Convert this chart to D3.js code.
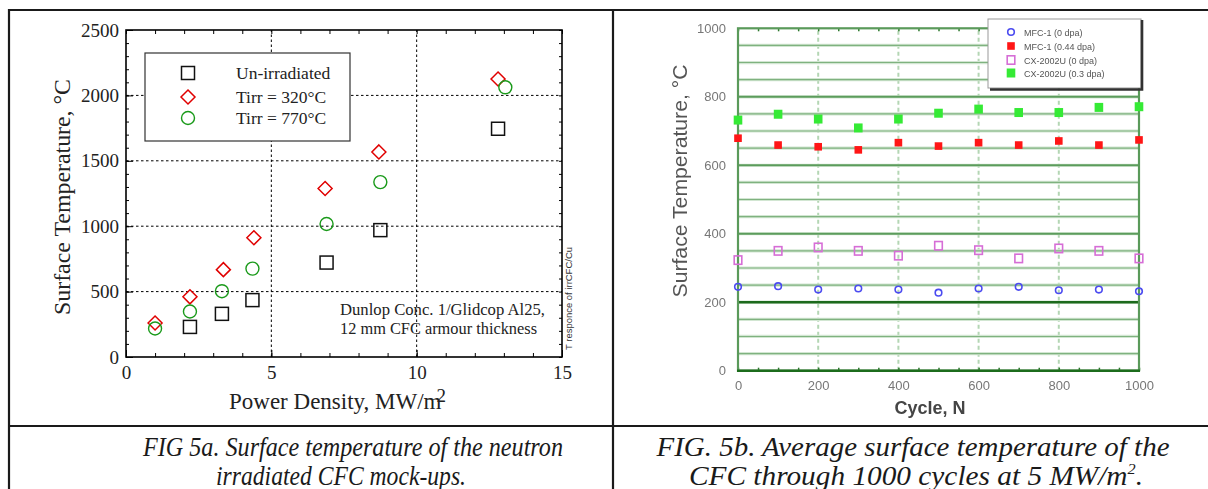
<!DOCTYPE html>
<html>
<head>
<meta charset="utf-8">
<script src="https://cdn.jsdelivr.net/npm/d3@7"></script>
<style>
  body { margin: 0; background: #fff; }
  svg { display: block; }
</style>
</head>
<body>
<svg id="fig" width="1208" height="489"></svg>
<script>
// ---- FIG 5a data (power density MW/m2, surface temp C)
const powerUnirr = [2.2, 3.3, 4.35, 6.9, 8.75, 12.8];
const tempUnirr = [230, 330, 435, 722, 970, 1745];
const power320 = [1.0, 2.2, 3.35, 4.4, 6.85, 8.7, 12.8];
const temp320 = [260, 460, 668, 912, 1288, 1568, 2125];
const power770 = [1.0, 2.2, 3.3, 4.35, 6.9, 8.75, 13.05];
const temp770 = [218, 348, 503, 676, 1017, 1337, 2062];
const legendA = ["Un-irradiated", "Tirr = 320°C", "Tirr = 770°C"];
const xTicksA = [0, 5, 10, 15];
const yTicksA = [0, 500, 1000, 1500, 2000, 2500];

// ---- FIG 5b data (cycle N, surface temp C)
const cycles = [0, 100, 200, 300, 400, 500, 600, 700, 800, 900, 1000];
const mfc0 = [245, 247, 237, 240, 237, 228, 240, 245, 235, 237, 232];
const mfc044 = [679, 659, 654, 645, 666, 656, 666, 659, 671, 659, 674];
const cx0 = [323, 350, 360, 350, 336, 365, 352, 328, 357, 350, 328];
const cx03 = [732, 749, 735, 709, 735, 752, 764, 754, 754, 769, 771];
const legendB = ["MFC-1 (0 dpa)", "MFC-1 (0.44 dpa)", "CX-2002U (0 dpa)", "CX-2002U (0.3 dpa)"];
const ticksB = [0, 200, 400, 600, 800, 1000];

const svg = d3.select("#fig");
const serif = "'Liberation Serif', 'Times New Roman', serif";
const sans = "'Liberation Sans', Arial, sans-serif";

// table frame
const frame = svg.append("g").attr("stroke", "#1a1a1a").attr("stroke-width", 2.2);
frame.append("line").attr("x1", 8).attr("x2", 1208).attr("y1", 10).attr("y2", 10);
frame.append("line").attr("x1", 8).attr("x2", 1208).attr("y1", 426).attr("y2", 426);
frame.append("line").attr("x1", 9).attr("x2", 9).attr("y1", 9).attr("y2", 489);
frame.append("line").attr("x1", 613).attr("x2", 613).attr("y1", 9).attr("y2", 489);

// ================= FIG 5a =================
const xA = d3.scaleLinear().domain([0, 15]).range([126, 562]);
const yA = d3.scaleLinear().domain([0, 2500]).range([357, 30]);
const gA = svg.append("g");

// dotted grid
gA.append("g").selectAll("line").data(xTicksA.slice(1, -1)).join("line")
  .attr("x1", d => xA(d)).attr("x2", d => xA(d)).attr("y1", yA(0)).attr("y2", yA(2500))
  .attr("stroke", "#000").attr("stroke-width", 1).attr("stroke-dasharray", "2.5,2.5");
gA.append("g").selectAll("line").data(yTicksA.slice(1, -1)).join("line")
  .attr("x1", xA(0)).attr("x2", xA(15)).attr("y1", d => yA(d)).attr("y2", d => yA(d))
  .attr("stroke", "#000").attr("stroke-width", 1).attr("stroke-dasharray", "2.5,2.5");

// axes with inward ticks on all four sides
const axA = (axis, tr) => gA.append("g").attr("transform", tr).call(axis)
  .call(g => g.select(".domain").remove());
axA(d3.axisBottom(xA).tickValues(d3.range(0, 16)).tickSize(-4).tickFormat(""), `translate(0,${yA(0)})`);
axA(d3.axisTop(xA).tickValues(d3.range(0, 16)).tickSize(-4).tickFormat(""), `translate(0,${yA(2500)})`);
axA(d3.axisLeft(yA).tickValues(d3.range(0, 2501, 100)).tickSize(-3).tickFormat(""), `translate(${xA(0)},0)`);
axA(d3.axisRight(yA).tickValues(d3.range(0, 2501, 100)).tickSize(-3).tickFormat(""), `translate(${xA(15)},0)`);
axA(d3.axisBottom(xA).tickValues(xTicksA).tickSize(-7).tickPadding(9).tickFormat(d3.format("d")), `translate(0,${yA(0)})`)
  .selectAll("text").attr("font-family", serif).attr("font-size", 19).attr("fill", "#222");
axA(d3.axisLeft(yA).tickValues(yTicksA).tickSize(-7).tickPadding(7).tickFormat(d3.format("d")), `translate(${xA(0)},0)`)
  .selectAll("text").attr("font-family", serif).attr("font-size", 19).attr("fill", "#222");
gA.selectAll(".tick line").attr("stroke", "#000");

gA.append("rect").attr("x", xA(0)).attr("y", yA(2500))
  .attr("width", xA(15) - xA(0)).attr("height", yA(0) - yA(2500))
  .attr("fill", "none").attr("stroke", "#000").attr("stroke-width", 1.6);

// titles
gA.append("text").attr("transform", `translate(70,197) rotate(-90)`)
  .attr("text-anchor", "middle").attr("font-family", serif).attr("font-size", 23).attr("fill", "#222")
  .attr("textLength", 236).attr("lengthAdjust", "spacingAndGlyphs")
  .text("Surface Temperature, °C");
const xt = gA.append("text").attr("x", 229).attr("y", 409)
  .attr("font-family", serif).attr("font-size", 23).attr("fill", "#222");
xt.append("tspan").text("Power Density, MW/m");
xt.append("tspan").attr("dx", -5).attr("dy", -7).attr("font-size", 19).text("2");

// legend
const legA = gA.append("g");
legA.append("rect").attr("x", 145).attr("y", 53).attr("width", 205).attr("height", 88)
  .attr("fill", "#fff").attr("stroke", "#333").attr("stroke-width", 1.2);
const rowsA = [73, 97, 118];

const square = (g, cx, cy) => g.append("rect").attr("x", cx - 6.5).attr("y", cy - 6.5)
  .attr("width", 13).attr("height", 13).attr("fill", "none").attr("stroke", "#111").attr("stroke-width", 1.5);
const diamond = (g, cx, cy) => g.append("path")
  .attr("d", `M${cx},${cy - 7}L${cx + 7},${cy}L${cx},${cy + 7}L${cx - 7},${cy}Z`)
  .attr("fill", "none").attr("stroke", "#e00000").attr("stroke-width", 1.5);
const circle = (g, cx, cy) => g.append("circle").attr("cx", cx).attr("cy", cy).attr("r", 6.5)
  .attr("fill", "none").attr("stroke", "#1a9a1a").attr("stroke-width", 1.4);
const markersA = [square, diamond, circle];

legendA.forEach((name, i) => {
  markersA[i](legA, 188, rowsA[i]);
  legA.append("text").attr("x", 236).attr("y", rowsA[i] + 6)
    .attr("font-family", serif).attr("font-size", 17.5).attr("fill", "#222").text(name);
});

// points
const ptsA = gA.append("g");
powerUnirr.forEach((p, i) => square(ptsA, xA(p), yA(tempUnirr[i])));
power320.forEach((p, i) => diamond(ptsA, xA(p), yA(temp320[i])));
power770.forEach((p, i) => circle(ptsA, xA(p), yA(temp770[i])));

// notes
const note = gA.append("text").attr("font-family", serif).attr("font-size", 16).attr("fill", "#222");
note.append("tspan").attr("x", 340).attr("y", 315).attr("textLength", 205)
  .attr("lengthAdjust", "spacingAndGlyphs").text("Dunlop Conc. 1/Glidcop Al25,");
note.append("tspan").attr("x", 340).attr("y", 334).attr("textLength", 197)
  .attr("lengthAdjust", "spacingAndGlyphs").text("12 mm CFC armour thickness");
gA.append("text").attr("transform", "translate(572,350) rotate(-90)")
  .attr("font-family", sans).attr("font-size", 8.5).attr("fill", "#333")
  .attr("textLength", 103).attr("lengthAdjust", "spacingAndGlyphs")
  .text("T responce of irrCFC/Cu");

// ================= FIG 5b =================
const defs = svg.append("defs");
defs.append("filter").attr("id", "soft").append("feGaussianBlur").attr("stdDeviation", 0.45);

const xB = d3.scaleLinear().domain([0, 1000]).range([738, 1139]);
const yB = d3.scaleLinear().domain([0, 1000]).range([370.7, 28.3]);
const gB = svg.append("g").attr("filter", "url(#soft)");

// vertical dashed grid
gB.append("g").selectAll("line").data(ticksB.slice(1, -1)).join("line")
  .attr("x1", d => xB(d)).attr("x2", d => xB(d)).attr("y1", yB(0)).attr("y2", yB(1000))
  .attr("stroke", "#b4d6b4").attr("stroke-width", 2).attr("stroke-dasharray", "4,3");

// horizontal grid every 50
const hLines = d3.range(50, 1000, 50);
gB.append("g").selectAll("line").data(hLines).join("line")
  .attr("x1", xB(0)).attr("x2", xB(1000)).attr("y1", d => yB(d)).attr("y2", d => yB(d))
  .attr("stroke", "#d2e6d2").attr("stroke-width", 3.2);
gB.append("g").selectAll("line").data(hLines).join("line")
  .attr("x1", xB(0)).attr("x2", xB(1000)).attr("y1", d => yB(d)).attr("y2", d => yB(d))
  .attr("stroke", d => d === 200 ? "#1d6a1d" : d % 200 === 0 ? "#5c9c5c" : "#7fb27f")
  .attr("stroke-width", d => d === 200 ? 2.6 : d % 200 === 0 ? 2 : 1.1);

// small ticks top/bottom
const tickB = (axis, tr) => gB.append("g").attr("transform", tr).call(axis)
  .call(g => g.select(".domain").remove())
  .call(g => g.selectAll("line").attr("stroke", "#2d7a2d").attr("stroke-width", 1.5));
tickB(d3.axisBottom(xB).tickValues(d3.range(0, 1001, 50)).tickSize(-3).tickFormat(""), `translate(0,${yB(0)})`);
tickB(d3.axisTop(xB).tickValues(d3.range(0, 1001, 50)).tickSize(-3).tickFormat(""), `translate(0,${yB(1000)})`);

// frame
gB.append("rect").attr("x", xB(0)).attr("y", yB(1000))
  .attr("width", xB(1000) - xB(0)).attr("height", yB(0) - yB(1000))
  .attr("fill", "none").attr("stroke", "#5a9a5a").attr("stroke-width", 2.2);
gB.append("line").attr("x1", xB(0) - 1).attr("x2", xB(1000) + 1).attr("y1", yB(0)).attr("y2", yB(0))
  .attr("stroke", "#1f6c1f").attr("stroke-width", 2.6);

// tick labels
gB.append("g").attr("transform", `translate(0,${yB(0)})`)
  .call(d3.axisBottom(xB).tickValues(ticksB).tickSize(0).tickPadding(10).tickFormat(d3.format("d")))
  .call(g => g.select(".domain").remove())
  .selectAll("text").attr("font-family", sans).attr("font-size", 13).attr("fill", "#777");
gB.append("g").attr("transform", `translate(${xB(0)},0)`)
  .call(d3.axisLeft(yB).tickValues(ticksB).tickSize(0).tickPadding(12).tickFormat(d3.format("d")))
  .call(g => g.select(".domain").remove())
  .selectAll("text").attr("font-family", sans).attr("font-size", 13).attr("fill", "#777");

// titles
gB.append("text").attr("transform", "translate(687,181) rotate(-90)")
  .attr("text-anchor", "middle").attr("font-family", sans).attr("font-size", 20).attr("fill", "#555")
  .attr("textLength", 233).attr("lengthAdjust", "spacingAndGlyphs")
  .text("Surface Temperature, °C");
gB.append("text").attr("x", 930).attr("y", 414).attr("text-anchor", "middle")
  .attr("font-family", sans).attr("font-size", 18).attr("font-weight", "bold").attr("fill", "#444")
  .text("Cycle, N");

// marker makers for 5b
const mkB = [
  (g, cx, cy) => g.append("circle").attr("cx", cx).attr("cy", cy).attr("r", 3.3)
    .attr("fill", "none").attr("stroke", "#4b4bf0").attr("stroke-width", 1.6),
  (g, cx, cy) => g.append("rect").attr("x", cx - 3.8).attr("y", cy - 3.8).attr("width", 7.6).attr("height", 7.6)
    .attr("fill", "#ff1515"),
  (g, cx, cy) => g.append("rect").attr("x", cx - 3.8).attr("y", cy - 4.2).attr("width", 7.6).attr("height", 8.4)
    .attr("fill", "none").attr("stroke", "#d66ed6").attr("stroke-width", 1.6),
  (g, cx, cy) => g.append("rect").attr("x", cx - 4.3).attr("y", cy - 4.5).attr("width", 8.6).attr("height", 9)
    .attr("fill", "#36ea36")
];
const seriesB = [mfc0, mfc044, cx0, cx03];
const ptsB = gB.append("g");
seriesB.forEach((vals, s) => vals.forEach((v, i) => mkB[s](ptsB, xB(cycles[i]), yB(v))));

// legend 5b
const legB = gB.append("g");
legB.append("rect").attr("x", 988).attr("y", 19).attr("width", 153).attr("height", 69)
  .attr("fill", "#fff").attr("stroke", "#999").attr("stroke-width", 1);
legB.append("path").attr("d", "M1142,20V89.5H990")
  .attr("fill", "none").attr("stroke", "#333").attr("stroke-width", 2.6);
const rowsB = [32, 46, 60, 73];
legendB.forEach((name, i) => {
  mkB[i](legB, 1011, rowsB[i]);
  legB.append("text").attr("x", 1024).attr("y", rowsB[i] + 3.5)
    .attr("font-family", sans).attr("font-size", 9).attr("fill", "#555").text(name);
});

// ================= captions =================
const cap = svg.append("g").attr("font-family", serif).attr("font-style", "italic")
  .attr("font-size", 27).attr("fill", "#1a1a1a").attr("text-anchor", "middle");
cap.append("text").attr("x", 353).attr("y", 456).attr("textLength", 420).attr("lengthAdjust", "spacingAndGlyphs")
  .text("FIG 5a. Surface temperature of the neutron");
cap.append("text").attr("x", 341).attr("y", 485).attr("textLength", 250).attr("lengthAdjust", "spacingAndGlyphs")
  .text("irradiated CFC mock-ups.");
cap.append("text").attr("x", 913).attr("y", 456).attr("textLength", 513).attr("lengthAdjust", "spacingAndGlyphs")
  .text("FIG. 5b. Average surface temperature of the");
const c4 = cap.append("text").attr("x", 916).attr("y", 485).attr("textLength", 454).attr("lengthAdjust", "spacingAndGlyphs");
c4.append("tspan").text("CFC through 1000 cycles at 5 MW/m");
c4.append("tspan").attr("dy", -11).attr("font-size", 15).text("2");
c4.append("tspan").attr("dy", 11).text(".");
</script>
</body>
</html>
